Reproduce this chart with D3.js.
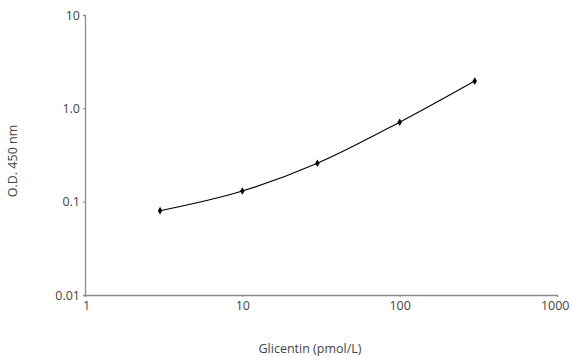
<!DOCTYPE html>
<html>
<head>
<meta charset="utf-8">
<script src="https://d3js.org/d3.v7.min.js"></script>
<style>
  body { margin: 0; background: #fff; }
  text { font-family: "Open Sans", sans-serif; fill: #444; }
</style>
</head>
<body>
<div id="chart"></div>
<script>
// data
var concentrations = [3, 10, 30, 100, 300];
var odValues = [0.08, 0.13, 0.258, 0.71, 1.96];
var xTicks = [1, 10, 100, 1000];
var yTicks = [0.01, 0.1, 1, 10];
var yTickLabels = ["0.01", "0.1", "1.0", "10"];

var width = 573, height = 357;

var svg = d3.select("#chart").append("svg")
    .attr("width", width)
    .attr("height", height);

// log scales, one decade = ~157px on x, ~93px on y
var x = d3.scaleLog().domain([1, 1000]).range([85, 557]);
var y = d3.scaleLog().domain([0.01, 10]).range([295, 15]);

// x axis
var xAxis = svg.append("g")
    .attr("transform", "translate(0,295)")
    .call(d3.axisBottom(x).tickValues(xTicks).tickFormat(d3.format("d")).tickSize(2).tickPadding(4));

// y axis
var yAxis = svg.append("g")
    .attr("transform", "translate(85,0)")
    .call(d3.axisLeft(y).tickValues(yTicks).tickFormat(function(d, i) { return yTickLabels[i]; }).tickSize(2).tickPadding(3));

svg.selectAll(".domain").attr("stroke", "#8c8c8c").attr("stroke-width", 1.3);
svg.selectAll(".tick line").attr("stroke", "#8c8c8c");
svg.selectAll(".tick text").style("font-size", "12.5px").attr("fill", "#444");

// x labels sit a bit off-center in the reference: "1000" ends at the axis end
xAxis.selectAll(".tick text")
    .attr("text-anchor", function(d) { return d === 1000 ? "end" : "middle"; })
    .attr("dx", function(d) { return d === 1000 ? "12px" : d === 1 ? "1px" : "0"; });

var points = concentrations.map(function(c, i) { return [c, odValues[i]]; });

// smooth curve through the standards
var line = d3.line()
    .x(function(d) { return x(d[0]); })
    .y(function(d) { return y(d[1]); })
    .curve(d3.curveMonotoneX);

svg.append("path")
    .datum(points)
    .attr("d", line)
    .attr("fill", "none")
    .attr("stroke", "#000")
    .attr("stroke-width", 1.1);

svg.selectAll(".marker")
    .data(points)
    .enter()
    .append("path")
    .attr("class", "marker")
    .attr("d", d3.symbol().type(d3.symbolDiamond).size(17))
    .attr("transform", function(d) { return "translate(" + x(d[0]) + "," + y(d[1]) + ")"; })
    .attr("fill", "#000");

// axis titles
svg.append("text")
    .attr("x", 310)
    .attr("y", 353)
    .attr("text-anchor", "middle")
    .style("font-size", "12.5px")
    .text("Glicentin (pmol/L)");

svg.append("text")
    .attr("transform", "translate(17,161) rotate(-90)")
    .attr("text-anchor", "middle")
    .style("font-size", "12.5px")
    .text("O.D. 450 nm");
</script>
</body>
</html>
